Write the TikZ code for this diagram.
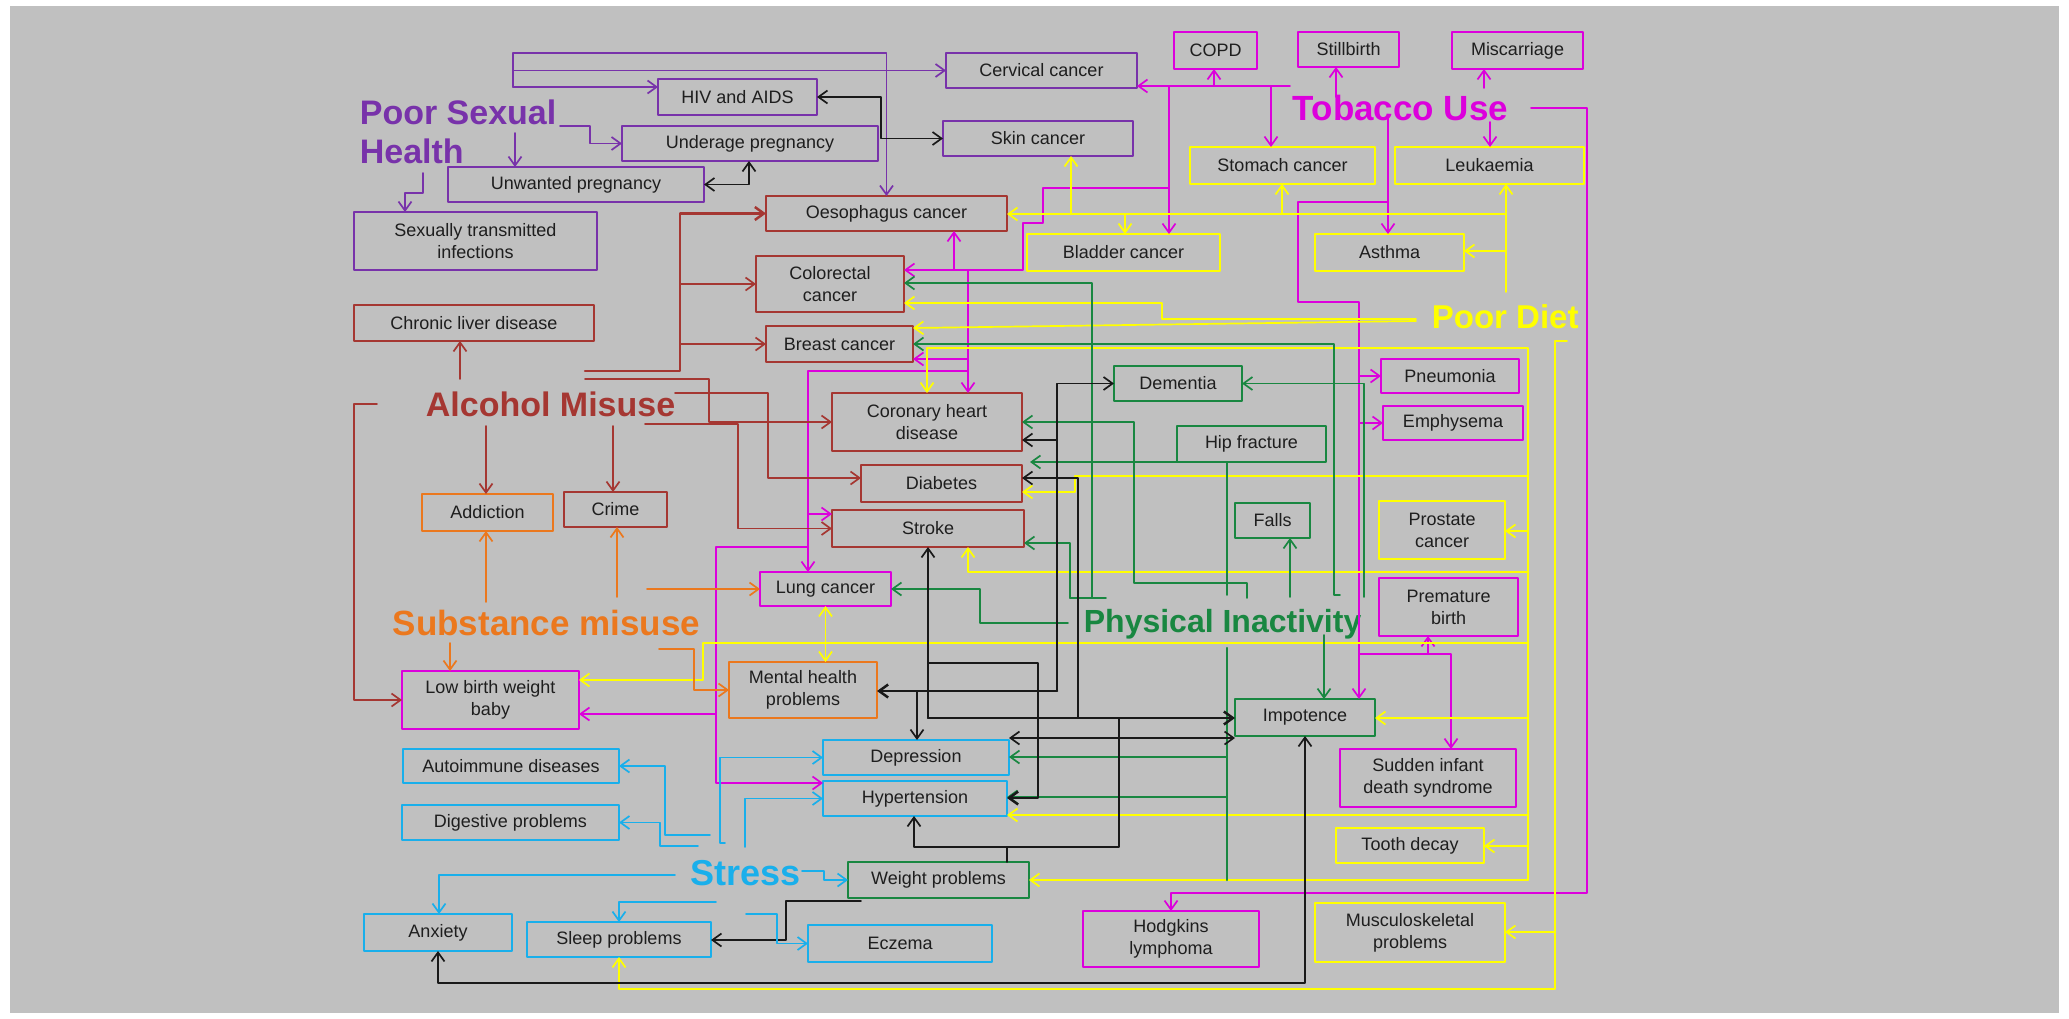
\documentclass[tikz,border=0pt]{standalone}
\usepackage{fontspec}
\setmainfont{Liberation Sans}
\usetikzlibrary{arrows.meta}
\definecolor{bgc}{RGB}{192,192,192}
\definecolor{txt}{RGB}{30,30,30}
\definecolor{purp}{RGB}{120,50,170}
\definecolor{magn}{RGB}{220,0,220}
\definecolor{brwn}{RGB}{165,55,50}
\definecolor{orng}{RGB}{235,120,30}
\definecolor{yell}{RGB}{255,255,0}
\definecolor{gren}{RGB}{25,135,65}
\definecolor{cyn}{RGB}{25,175,235}
\definecolor{blk}{RGB}{25,25,25}
\newcommand{\lblfont}[1]{\fontsize{#1}{39}\selectfont\bfseries}
\begin{document}
\begin{tikzpicture}[x=1pt, y=-1pt, line join=round, line cap=round, >={Straight Barb[length=9pt,width=13pt]}, line width=1.7pt]
\tikzset{cbox/.style={draw=#1, line width=1.7pt, inner sep=0pt, outer sep=0pt, align=center, text=txt, font=\fontsize{18}{22}\selectfont},
big/.style={text=#1, inner sep=0pt, anchor=base west, font=\lblfont{34}},
cP/.style={draw=purp}, cM/.style={draw=magn}, cB/.style={draw=brwn}, cO/.style={draw=orng},
cY/.style={draw=yell}, cG/.style={draw=gren}, cC/.style={draw=cyn}, cK/.style={draw=blk},
heavy/.style={line width=2.5pt}}
\useasboundingbox (0,0) rectangle (2069,1018);
\fill[bgc] (10,6) rectangle (2059,1013);
\node[cbox=purp, minimum width=191pt, minimum height=35pt] (cerv) at (1041.5,70.5) {Cervical cancer};
\node[cbox=purp, minimum width=159pt, minimum height=36pt] (hiv) at (737.5,97) {HIV and AIDS};
\node[cbox=purp, minimum width=256pt, minimum height=35pt] (under) at (750,143.5) {Underage pregnancy};
\node[cbox=purp, minimum width=256pt, minimum height=35pt] (unw) at (576,184.5) {Unwanted pregnancy};
\node[cbox=purp, minimum width=243pt, minimum height=58pt] (sti) at (475.5,241) {Sexually transmitted\\infections};
\node[cbox=purp, minimum width=190pt, minimum height=35pt] (skin) at (1038,138.5) {Skin cancer};
\node[cbox=brwn, minimum width=241pt, minimum height=35pt] (oes) at (886.5,213.5) {Oesophagus cancer};
\node[cbox=brwn, minimum width=148pt, minimum height=56pt] (col) at (830,284) {Colorectal\\cancer};
\node[cbox=brwn, minimum width=240pt, minimum height=36pt] (cld) at (474,323) {Chronic liver disease};
\node[cbox=brwn, minimum width=147pt, minimum height=36pt] (breast) at (839.5,344) {Breast cancer};
\node[cbox=brwn, minimum width=190pt, minimum height=58pt] (chd) at (927,422) {Coronary heart\\disease};
\node[cbox=brwn, minimum width=161pt, minimum height=37pt] (diab) at (941.5,483.5) {Diabetes};
\node[cbox=brwn, minimum width=192pt, minimum height=37pt] (stroke) at (928,528.5) {Stroke};
\node[cbox=orng, minimum width=131pt, minimum height=37pt] (addic) at (487.5,512.5) {Addiction};
\node[cbox=brwn, minimum width=103pt, minimum height=35pt] (crime) at (615.5,509.5) {Crime};
\node[cbox=magn, minimum width=131pt, minimum height=34pt] (lung) at (825.5,589) {Lung cancer};
\node[cbox=magn, minimum width=177pt, minimum height=58pt] (lbw) at (490.5,700) {Low birth weight\\baby};
\node[cbox=orng, minimum width=148pt, minimum height=56pt] (mhp) at (803,690) {Mental health\\problems};
\node[cbox=cyn, minimum width=216pt, minimum height=34pt] (auto) at (511,766) {Autoimmune diseases};
\node[cbox=cyn, minimum width=217pt, minimum height=35pt] (dig) at (510.5,822.5) {Digestive problems};
\node[cbox=cyn, minimum width=186pt, minimum height=35pt] (dep) at (916,757.5) {Depression};
\node[cbox=cyn, minimum width=184pt, minimum height=35pt] (hyp) at (915,798.5) {Hypertension};
\node[cbox=gren, minimum width=181pt, minimum height=36pt] (wgt) at (938.5,880) {Weight problems};
\node[cbox=cyn, minimum width=148pt, minimum height=37pt] (anx) at (438,932.5) {Anxiety};
\node[cbox=cyn, minimum width=184pt, minimum height=35pt] (sleep) at (619,939.5) {Sleep problems};
\node[cbox=cyn, minimum width=184pt, minimum height=37pt] (ecz) at (900,943.5) {Eczema};
\node[cbox=magn, minimum width=83pt, minimum height=37pt] (copd) at (1215.5,50.5) {COPD};
\node[cbox=magn, minimum width=101pt, minimum height=35pt] (still) at (1348.5,49.5) {Stillbirth};
\node[cbox=magn, minimum width=131pt, minimum height=37pt] (misc) at (1517.5,50.5) {Miscarriage};
\node[cbox=yell, minimum width=185pt, minimum height=37pt] (stom) at (1282.5,165.5) {Stomach cancer};
\node[cbox=yell, minimum width=189pt, minimum height=37pt] (leuk) at (1489.5,165.5) {Leukaemia};
\node[cbox=yell, minimum width=193pt, minimum height=37pt] (blad) at (1123.5,252.5) {Bladder cancer};
\node[cbox=yell, minimum width=149pt, minimum height=37pt] (asth) at (1389.5,252.5) {Asthma};
\node[cbox=gren, minimum width=128pt, minimum height=35pt] (dem) at (1178,383.5) {Dementia};
\node[cbox=gren, minimum width=149pt, minimum height=36pt] (hip) at (1251.5,444) {Hip fracture};
\node[cbox=gren, minimum width=75pt, minimum height=35pt] (falls) at (1272.5,520.5) {Falls};
\node[cbox=magn, minimum width=138pt, minimum height=34pt] (pneu) at (1450,376) {Pneumonia};
\node[cbox=magn, minimum width=140pt, minimum height=34pt] (emph) at (1453,423) {Emphysema};
\node[cbox=yell, minimum width=126pt, minimum height=58pt] (pros) at (1442,530) {Prostate\\cancer};
\node[cbox=magn, minimum width=139pt, minimum height=58pt] (prem) at (1448.5,607) {Premature\\birth};
\node[cbox=gren, minimum width=140pt, minimum height=37pt] (impo) at (1305,717.5) {Impotence};
\node[cbox=magn, minimum width=176pt, minimum height=58pt] (sids) at (1428,778) {Sudden infant\\death syndrome};
\node[cbox=yell, minimum width=148pt, minimum height=35pt] (tooth) at (1410,845.5) {Tooth decay};
\node[cbox=magn, minimum width=176pt, minimum height=56pt] (hodg) at (1171,939) {Hodgkins\\lymphoma};
\node[cbox=yell, minimum width=190pt, minimum height=59pt] (musc) at (1410,932.5) {Musculoskeletal\\problems};
\node[big=purp, anchor=north west, align=left] (psh) at (359,99) {Poor Sexual\\Health};
\node[big=magn, font=\lblfont{35}] (tob) at (1292,120) {Tobacco Use};
\node[big=yell, font=\lblfont{33}] (diet) at (1431,328) {Poor Diet};
\node[big=brwn] (alc) at (425,416) {Alcohol Misuse};
\node[big=orng, font=\lblfont{35}] (sub) at (392,635) {Substance misuse};
\node[big=gren, font=\lblfont{32}] (phys) at (1083,632) {Physical Inactivity};
\node[big=cyn, font=\lblfont{36}] (stress) at (690,885) {Stress};
\coordinate (ps0) at (513,87);
\draw[cP,->] (ps0) |- (oes.north |- 0,53) -- (oes.north);
\draw[cP,->] (ps0 |- cerv.west) -- (cerv.west);
\draw[cP,->] (ps0) -- (ps0 -| hiv.west);
\draw[cP,->] (560,126) -- (590,126) |- (under.west);
\draw[cP,->] (515,133) -- (515,0 |- unw.north);
\draw[cP,->] (423,173) |- (405,193) -- (405,0 |- sti.north);
\coordinate (tb0) at (1290,86);
\draw[cM,->] (tb0) -- (tb0 -| cerv.east);
\draw[cM,->] (1214,86) -- (1214,0 |- copd.south);
\draw[cM,->] (1271,86) -- (1271,0 |- stom.north);
\draw[cM,->] (1169,86) -- (1169,0 |- blad.north);
\draw[cM,->] (1169,188) -- (1043,188) -- (1043,223) -- (1023,223) -- (1023,270) -- (col.east |- 0,270);
\draw[cM,->] (954,270) -- (954,0 |- oes.south);
\draw[cM,->] (968,270) -- (968,0 |- chd.north);
\draw[cM,->] (968,359) -- (breast.east |- 0,359);
\draw[cM,->] (968,371) -- (808,371) -- (808,0 |- lung.north);
\draw[cM,->] (808,514) -- (stroke.west |- 0,514);
\draw[cM,->] (808,547) -| (716,783) -- (hyp.west |- 0,783);
\draw[cM,->] (716,714) -- (lbw.east |- 0,714);
\draw[cM,->] (1336,97) -- (1336,0 |- still.south);
\draw[cM,->] (1484,88) -- (1484,0 |- misc.south);
\draw[cM,->] (1490,122) -- (1490,0 |- leuk.north);
\draw[cM,->] (1388,118) -- (1388,0 |- asth.north);
\draw[cM,->] (1388,202) -- (1298,202) -- (1298,302) -- (1359,302) -- (1359,0 |- impo.north);
\draw[cM,->] (1359,0 |- pneu.west) -- (pneu.west);
\draw[cM,->] (1359,0 |- emph.west) -- (emph.west);
\draw[cM,->] (1359,654) -| (1451,0 |- sids.north);
\draw[cM,->] (1428,654) -- (1428,0 |- prem.south);
\draw[cM,->] (1531,108) -- (1587,108) -- (1587,893) -- (hodg.north |- 0,893) -- (hodg.north);
\draw[cY,->] (1506,292) -- (1506,0 |- leuk.south);
\draw[cY,->] (1506,214) -- (oes.east |- 0,214);
\foreach \x/\n in {1071/skin, 1282/stom}
\draw[cY,->] (\x,214) -- (\x,0 |- \n.south);
\draw[cY,->] (1125,214) -- (1125,0 |- blad.north);
\draw[cY,->] (1506,251) -- (asth.east |- 0,251);
\draw[cY,->] (1416,319) -| (1162,303) -- (col.east |- 0,303);
\draw[cY,->] (1416,321) -- ([yshift=16pt]breast.east);
\draw[cY,->] (1528,880) -- (1528,348) -- (927,348) -- (927,0 |- chd.north);
\draw[cY,->] (1528,476) -- (1075,476) -- (1075,492) -- (diab.east |- 0,492);
\draw[cY,->] (1528,572) -| (968,0 |- stroke.south);
\draw[cY,->] (1528,643) -- (703,643) -- (703,680) -- (lbw.east |- 0,680);
\draw[cY,<->] (lung.south) -- (lung.south |- mhp.north);
\foreach \y/\n in {531/pros, 718/impo, 815/hyp, 846/tooth, 880/wgt}
\draw[cY,->] (1528,\y) -- (\n.east |- 0,\y);
\draw[cY,->] (1567,341) -- (1555,341) -- (1555,989) -- (sleep.south |- 0,989) -- (sleep.south);
\draw[cY,->] (1555,932) -- (musc.east |- 0,932);
\draw[cG,->] (1068,623) -- (980,623) -- (980,589) -- (lung.east |- 0,589);
\draw[cG] (1070,598) -- (1106,598);
\draw[cG,->] (1092,598) -- (1092,283) -- (col.east |- 0,283);
\draw[cG,->] (1070,598) -- (1070,543) -- (stroke.east |- 0,543);
\draw[cG,->] (1247,598) -- (1247,583) -- (1134,583) -- (1134,422) -- (chd.east |- 0,422);
\draw[cG] (1227,595) -- (1227,0 |- hip.south);
\draw[cG,->] (hip.south west) -- ([xshift=8pt,yshift=3pt]diab.north east);
\draw[cG,->] (1290,597) -- (1290,0 |- falls.south);
\draw[cG,->] (1340,595) -- (1334,595) -- (1334,344) -- (breast.east |- 0,344);
\draw[cG,->] (1364,597) -- (1364,0 |- dem.east) -- (dem.east);
\draw[cG,heavy] (1227,648) -- (1227,880);
\foreach \y/\n in {757/dep, 797/hyp}
\draw[cG,->] (1227,\y) -- (\n.east |- 0,\y);
\draw[cG,->] (1324,635) -- (1324,0 |- impo.north);
\draw[cK,<->] (hiv.east) -- (hiv.east -| 881,0) |- (skin.west);
\draw[cK,<->] (unw.east) -| (749,0 |- under.south);
\draw[cK,->] (1057,691) -- (1057,0 |- dem.west) -- (dem.west);
\draw[cK,->] (1057,440) -- (chd.east |- 0,440);
\draw[cK,->,heavy] (1057,691) -- (mhp.east |- 0,691);
\draw[cK,->] (917,691) -- (917,0 |- dep.north);
\draw[cK,<-] (diab.east |- 0,478) -- (1078,478) -- (1078,718);
\draw[cK,->,heavy] (928,718) -- (impo.west |- 0,718);
\draw[cK,->] (1078,718) -- (928,718) -- (928,0 |- stroke.south);
\draw[cK] (928,663) -- (1038,663) -- (1038,798) -- (1030,798);
\draw[cK,->,heavy] (1030,798) -- (hyp.east |- 0,798);
\draw[cK,<->] (dep.north east |- 0,738) -- (impo.west |- 0,738);
\draw[cK] (1119,718) -- (1119,847) -- (1007,847);
\draw[cK,->] (1007,0 |- wgt.north) -- (1007,847) -- (914,847) -- (914,0 |- hyp.south);
\draw[cK,->] (861,901) -- (786,901) -- (786,940) -- (sleep.east |- 0,940);
\draw[cK,<->] (anx.south) -- (anx.south |- 0,983) -- (impo.south |- 0,983) -- (impo.south);
\draw[cC,->] (802,871) -- (824,871) |- (wgt.west);
\draw[cC,->] (675,875) -- (439,875) -- (439,0 |- anx.north);
\draw[cC,->] (716,902) -- (sleep.north |- 0,902) -- (sleep.north);
\draw[cC,->] (746,914) -- (777,914) |- (ecz.west);
\draw[cC,->] (725,843) -- (720,843) |- (dep.west);
\draw[cC,->] (745,847) |- (hyp.west);
\draw[cC,->] (710,835) -- (665,835) |- (auto.east);
\draw[cC,->] (698,846) -- (660,846) |- (dig.east);
\draw[cB,->] (460,379) -- (460,0 |- cld.south);
\draw[cB,->,heavy] (585,371) -- (680,371) |- (oes.west);
\draw[cB,->] (680,0 |- col.west) -- (col.west);
\draw[cB,->] (680,0 |- breast.west) -- (breast.west);
\draw[cB,->] (585,379) -- (709,379) |- (chd.west);
\draw[cB,->] (675,393) -- (768,393) -- (768,478) -- (diab.west |- 0,478);
\draw[cB,->] (645,424) -- (738,424) |- (stroke.west);
\draw[cB,->] (486,426) -- (486,0 |- addic.north);
\draw[cB,->] (613,426) -- (613,0 |- crime.north);
\draw[cB,->] (377,404) -- (354,404) |- (lbw.west);
\draw[cO,->] (486,602) -- (486,0 |- addic.south);
\draw[cO,->] (617,597) -- (617,0 |- crime.south);
\draw[cO,->] (647,0 |- lung.west) -- (lung.west);
\draw[cO,->] (450,643) -- (450,0 |- lbw.north);
\draw[cO,->] (659,649) -- (694,649) |- (mhp.west);
\end{tikzpicture}
\end{document}
